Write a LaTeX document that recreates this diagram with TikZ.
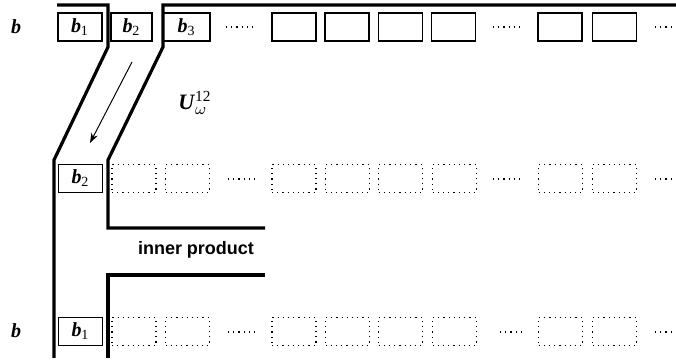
\documentclass[tikz,border=0pt]{standalone}
\usepackage{fontspec}
\setmainfont{Liberation Serif}
\setsansfont{Liberation Sans}
\usetikzlibrary{arrows.meta}

% bold italic vector element with an upright index
\newcommand{\belem}[1]{\textbf{\textit{b}}$_{\mathrm{#1}}$}

\begin{document}
\begin{tikzpicture}[
  x=0.5pt, y=-0.5pt,
  font=\fontsize{10}{11}\selectfont,
  cell/.style={draw, line width=0.6pt, minimum width=22pt, minimum height=14pt, inner sep=0pt},
  ghost/.style={cell, dotted, line width=0.65pt},
  wall/.style={line width=1.6pt, line join=miter},
  more/.style={dotted, line width=0.6pt}
]
\useasboundingbox (0,0) rectangle (676,363);

% the vector b, stored row
\node (btop) at (16,27) {\textbf{\textit{b}}};
\node[cell] (t1) at (80,27) {\belem{1}};
\node[cell, minimum width=20.5pt] (t2) at (131.5,27) {\belem{2}};
\node[cell, minimum width=23.5pt] (t3) at (186.5,27) {\belem{3}};
\foreach \x [count=\i from 4] in {294,347,400.5,453.5,560,614.5}
  \node[cell] (t\i) at (\x,27) {};
\draw[more] (226,27) -- (255,27);
\draw[more] (493,27) -- (522,27);
\draw[more] (655,27) -- (674,27);

% rotated row
\node[cell] (m1) at (80.5,178.5) {\belem{2}};
\foreach \x [count=\i from 2] in {134,187.5,294,347.5,400.5,454.5,560.5,614.5}
  \node[ghost] (m\i) at (\x,178.5) {};
\draw[more] (228,179) -- (255,179);
\draw[more] (493,179) -- (520,179);
\draw[more] (655,179) -- (674,179);

% bottom row, b again
\node (bbot) at (16,331) {\textbf{\textit{b}}};
\node[cell] (l1) at (80.5,331.5) {\belem{1}};
\foreach \x [count=\i from 2] in {134,187.5,294,347.5,400.5,454.5,560.5,614.5}
  \node[ghost] (l\i) at (\x,331.5) {};
\draw[more] (228,332) -- (255,332);
\draw[more] (500,332) -- (522,332);
\draw[more] (655,332) -- (674,332);

% channel walls
\draw[wall] (57,5) -- (108,5) -- (108,47) -- (54,160) -- (54,358);
\draw[wall] (676,5) -- (163,5) -- (163,47) -- (108,160) -- (108,228) -- (265,228);
\draw[wall] (265,275) -- (108,275) -- (108,358);

% shift operator
\coordinate (src) at (132,62);
\coordinate (dst) at (90,143);
\draw[line width=0.5pt, -{Stealth[length=5pt,width=3.5pt]}] (src) -- (dst);
\node[font=\fontsize{11}{12}\selectfont] (shift) at (195,103) {\textbf{\textit{U}}$_{\omega}^{\mathrm{12}}$};

\node[font=\sffamily\bfseries\fontsize{9}{10}\selectfont] (inner) at (196,250) {inner product};

\end{tikzpicture}
\end{document}
